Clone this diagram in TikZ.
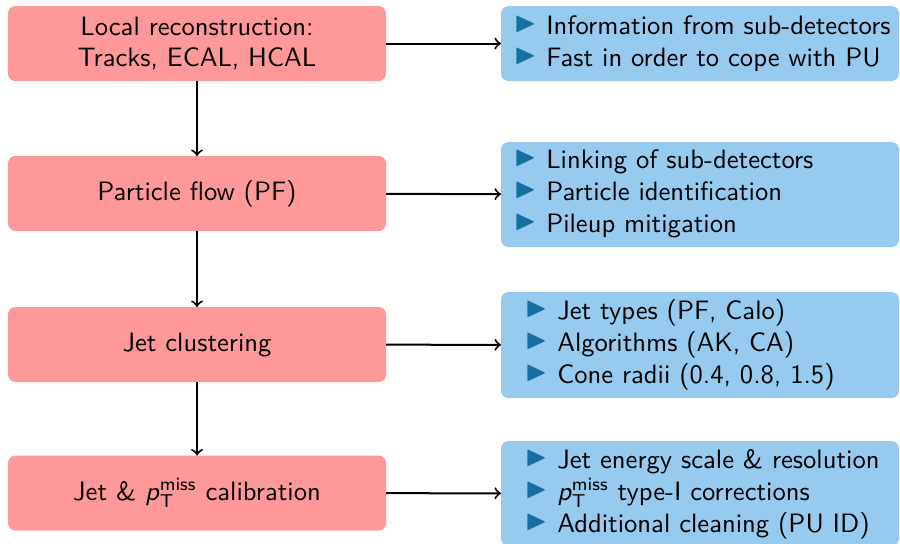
\documentclass[tikz,border=0pt]{standalone}
\usepackage{amssymb}
\usepackage{graphicx}
\usepackage{fontspec}
\renewcommand\familydefault{\sfdefault}
\definecolor{boxred}{RGB}{255,153,153}
\definecolor{boxblue}{RGB}{150,202,238}
\definecolor{bulletblue}{RGB}{20,112,160}
\newcommand\bul{\makebox[11.5pt][l]{\hspace*{-1.4pt}\raisebox{1.2pt}{\color{bulletblue}\scalebox{1.08}{$\blacktriangleright$}}}}
\newcommand\ptmiss{\textit{p}$_{\mathsf{T}}^{\mathsf{miss}}$}
\tikzset{
  redbox/.style={fill=boxred, rounded corners=3pt, minimum width=151.2pt, minimum height=30pt, inner sep=0pt, outer sep=0pt, align=center, font=\sffamily\fontsize{10.65}{12.4}\selectfont},
  bluebox/.style={fill=boxblue, rounded corners=3pt, minimum width=159.2pt, inner sep=0pt, outer sep=0pt},
  listtext/.style={anchor=west, inner sep=0pt, align=left, font=\sffamily\fontsize{10.65}{12.8}\selectfont},
  flow/.style={thick, ->}
}
\begin{document}
\begin{tikzpicture}[x=0.4pt, y=-0.4pt]
\useasboundingbox (0,0) rectangle (900,543);
% left column
\node[redbox] (l1) at (197,43.5) {Local reconstruction:\\Tracks, ECAL, HCAL};
\node[redbox] (l2) at (197,193.5) {Particle flow (PF)};
\node[redbox] (l3) at (197,344.5) {Jet clustering};
\node[redbox] (l4) at (197,493) {Jet \& \ptmiss{} calibration};
% right column
\node[bluebox, minimum height=30pt] (r1) at (700,43.5) {};
\node[bluebox, minimum height=42pt] (r2) at (700,194.5) {};
\node[bluebox, minimum height=42.4pt] (r3) at (700,345) {};
\node[bluebox, minimum height=42pt] (r4) at (700,493.5) {};
\node[listtext] (t1) at (517,44) {\bul Information from sub-detectors\\\bul Fast in order to cope with PU};
\node[listtext] (t2) at (517,193.5) {\bul Linking of sub-detectors\\\bul Particle identification\\\bul Pileup mitigation};
\node[listtext] (t3) at (528,345) {\bul Jet types (PF, Calo)\\\bul Algorithms (AK, CA)\\\bul Cone radii (0.4, 0.8, 1.5)};
\node[listtext] (t4) at (528,494) {\bul Jet energy scale \& resolution\\\bul \ptmiss{} type-I corrections\\\bul Additional cleaning (PU ID)};
% connectors
\draw[flow] (l1) -- (r1);
\draw[flow] (l2) -- (r2);
\draw[flow] (l3) -- (r3);
\draw[flow] (l4) -- (r4);
\draw[flow] (l1) -- (l2);
\draw[flow] (l2) -- (l3);
\draw[flow] (l3) -- (l4);
\end{tikzpicture}
\end{document}
